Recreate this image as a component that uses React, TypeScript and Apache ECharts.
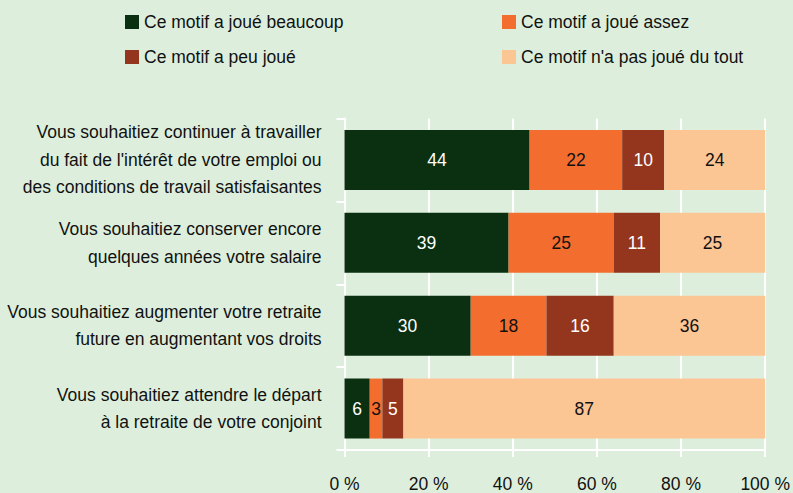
import React, { useEffect, useRef } from "react";
import * as echarts from "echarts";

const categories = [
  "Vous souhaitiez continuer à travailler\ndu fait de l'intérêt de votre emploi ou\ndes conditions de travail satisfaisantes",
  "Vous souhaitiez conserver encore\nquelques années votre salaire",
  "Vous souhaitiez augmenter votre retraite\nfuture en augmentant vos droits",
  "Vous souhaitiez attendre le départ\nà la retraite de votre conjoint",
];
const seriesNames = [
  "Ce motif a joué beaucoup",
  "Ce motif a joué assez",
  "Ce motif a peu joué",
  "Ce motif n'a pas joué du tout",
];
const beaucoup = [44, 39, 30, 6];
const assez = [22, 25, 18, 3];
const peu = [10, 11, 16, 5];
const pasDuTout = [24, 25, 36, 87];
const xTicks = [0, 20, 40, 60, 80, 100];

const colors = ["#0b3011", "#f36e2e", "#94361e", "#fcc594"];
const labelColors = ["#ffffff", "#111111", "#ffffff", "#111111"];
const FONT = "Liberation Sans, Arial, sans-serif";
const FS = 17.5;

export default function App() {
  const ref = useRef<HTMLDivElement>(null);
  useEffect(() => {
    if (!ref.current) return;
    const chart = echarts.init(ref.current, undefined, { renderer: "svg" });
    const values = [beaucoup, assez, peu, pasDuTout];
    const legendCommon = {
      orient: "vertical",
      top: 8,
      itemWidth: 14,
      itemHeight: 14,
      itemGap: 17,
      icon: "rect",
      textStyle: { fontSize: FS, color: "#111", fontFamily: FONT },
    };
    chart.setOption({
      animation: false,
      backgroundColor: "#ddefdc",
      textStyle: { fontFamily: FONT },
      legend: [
        { ...legendCommon, data: [seriesNames[0], seriesNames[2]], left: 120 },
        { ...legendCommon, data: [seriesNames[1], seriesNames[3]], left: 497 },
      ],
      grid: { left: 344.5, right: 25, top: 118.5, bottom: 42.5, containLabel: false },
      xAxis: {
        type: "value",
        min: xTicks[0],
        max: xTicks[xTicks.length - 1],
        interval: 20,
        axisLine: { show: true, lineStyle: { color: "#ffffff", width: 2 } },
        axisTick: { show: true, length: 7, lineStyle: { color: "#ffffff", width: 2 } },
        splitLine: { show: true, lineStyle: { color: "#ffffff", width: 2 } },
        axisLabel: {
          formatter: "{value} %",
          fontSize: FS,
          color: "#111",
          margin: 25,
          fontFamily: FONT,
        },
      },
      yAxis: {
        type: "category",
        inverse: true,
        data: categories,
        axisLine: { show: true, lineStyle: { color: "#ffffff", width: 2 } },
        axisTick: { show: true, length: 8, lineStyle: { color: "#ffffff", width: 2 } },
        axisLabel: {
          fontSize: FS,
          color: "#111",
          margin: 23,
          lineHeight: 27.5,
          align: "right",
          padding: [6, 0, 0, 0],
          fontFamily: FONT,
        },
      },
      series: seriesNames.map((name, i) => ({
        name,
        type: "bar",
        stack: "total",
        barWidth: 60,
        data: values[i],
        itemStyle: { color: colors[i] },
        label: {
          show: true,
          position: "inside",
          color: labelColors[i],
          fontSize: FS,
          fontFamily: FONT,
          padding: [4, 0, 0, 0],
        },
      })),
    });
    return () => chart.dispose();
  }, []);
  return (
    <div
      ref={ref}
      style={{ position: "fixed", left: 0, top: 0, width: 793, height: 493 }}
    />
  );
}
